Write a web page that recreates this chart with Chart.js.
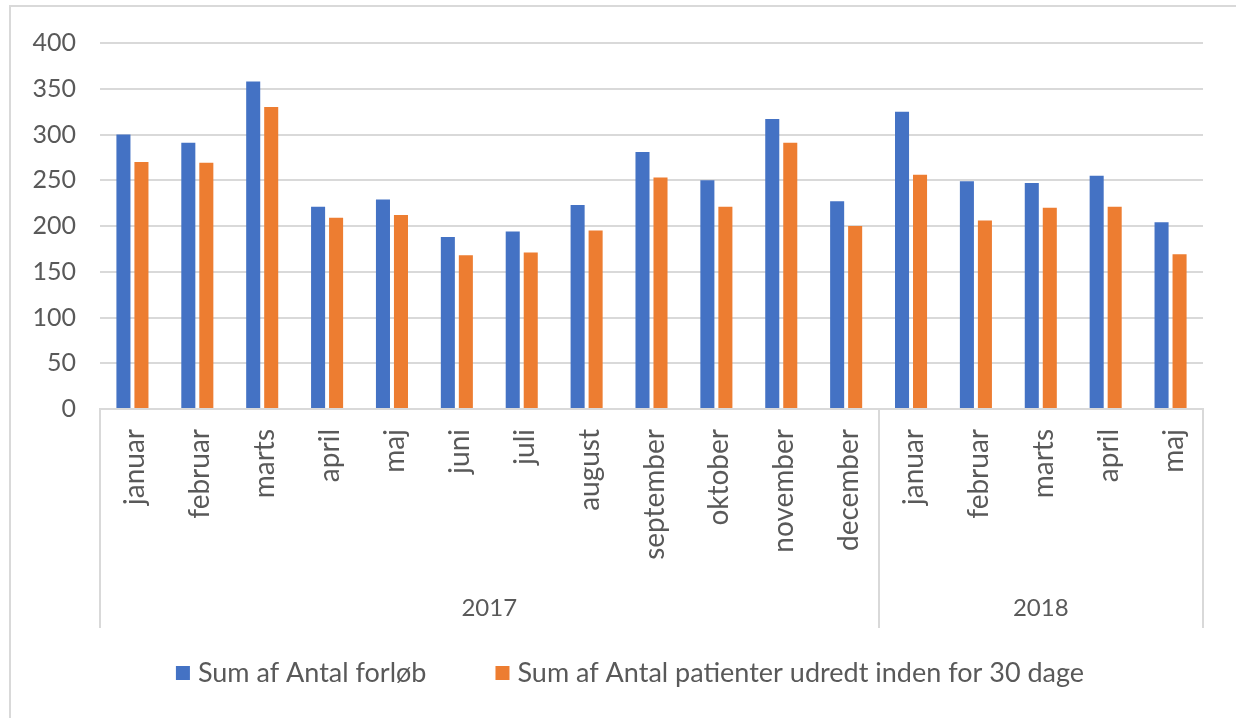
<!DOCTYPE html>
<html>
<head>
<meta charset="utf-8">
<script src="https://cdn.jsdelivr.net/npm/chart.js@4.4.1/dist/chart.umd.min.js"></script>
<style>
  html, body { margin: 0; padding: 0; background: #ffffff; }
  #wrap { width: 1236px; height: 718px; }
</style>
</head>
<body>
<div id="wrap"><canvas id="c" width="1236" height="718"></canvas></div>
<script>
const months = ['januar','februar','marts','april','maj','juni','juli','august','september','oktober','november','december','januar','februar','marts','april','maj'];
const yearLabels = ['2017', '2018'];
const yearSpans = [12, 5];
const forlob = [300, 291, 358, 221, 229, 188, 194, 223, 281, 250, 317, 227, 325, 249, 247, 255, 204];
const udredt = [270, 269, 330, 209, 212, 168, 171, 195, 253, 221, 291, 200, 256, 206, 220, 221, 169];
const seriesNames = ['Sum af Antal forløb', 'Sum af Antal patienter udredt inden for 30 dage'];
const yTicks = [0, 50, 100, 150, 200, 250, 300, 350, 400];

const BLUE = '#4472C4';
const ORANGE = '#ED7D31';
const GRID = '#D9D9D9';
const TEXT = '#595959';
const FONT = 'Lato, "Open Sans", sans-serif';

const decorPlugin = {
  id: 'decor',
  beforeDraw(chart) {
    const ctx = chart.ctx;
    ctx.save();
    ctx.strokeStyle = GRID;
    ctx.lineWidth = 2;
    ctx.beginPath();
    ctx.moveTo(10, 5); ctx.lineTo(10, 718);
    ctx.moveTo(9, 6); ctx.lineTo(1236, 6);
    ctx.stroke();
    ctx.restore();
  },
  afterDraw(chart) {
    const ctx = chart.ctx;
    const xs = chart.scales.x;
    const axisY = chart.chartArea.bottom;
    const boxBottom = 628;
    ctx.save();
    ctx.strokeStyle = GRID;
    const bounds = [xs.left];
    let idx = 0;
    for (let g = 0; g < yearSpans.length; g++) {
      idx += yearSpans[g];
      if (idx < months.length) {
        bounds.push((xs.getPixelForValue(idx - 1) + xs.getPixelForValue(idx)) / 2);
      } else {
        bounds.push(xs.right);
      }
    }
    ctx.lineWidth = 2;
    ctx.beginPath();
    for (let i = 0; i < bounds.length; i++) {
      const x = Math.round(bounds[i]);
      ctx.moveTo(x, axisY); ctx.lineTo(x, boxBottom);
    }
    ctx.stroke();
    ctx.fillStyle = TEXT;
    ctx.font = '24px ' + FONT;
    ctx.textAlign = 'center';
    ctx.textBaseline = 'middle';
    for (let g = 0; g < yearLabels.length; g++) {
      ctx.fillText(yearLabels[g], (bounds[g] + bounds[g + 1]) / 2, 608);
    }
    ctx.font = '27px ' + FONT;
    const sq = 14, gapSq = 8, gapItem = 69;
    const w0 = ctx.measureText(seriesNames[0]).width;
    const w1 = ctx.measureText(seriesNames[1]).width;
    const total = sq + gapSq + w0 + gapItem + sq + gapSq + w1;
    let x = 630 - total / 2;
    const ly = 673;
    ctx.textAlign = 'left';
    ctx.fillStyle = BLUE;
    ctx.fillRect(x, ly - 7, sq, sq);
    x += sq + gapSq;
    ctx.fillStyle = TEXT;
    ctx.fillText(seriesNames[0], x, ly);
    x += w0 + gapItem;
    ctx.fillStyle = ORANGE;
    ctx.fillRect(x, ly - 7, sq, sq);
    x += sq + gapSq;
    ctx.fillStyle = TEXT;
    ctx.fillText(seriesNames[1], x, ly);
    ctx.restore();
  }
};

new Chart(document.getElementById('c'), {
  type: 'bar',
  data: {
    labels: months,
    datasets: [
      { label: seriesNames[0], data: forlob, backgroundColor: BLUE, categoryPercentage: 0.555, barPercentage: 0.78 },
      { label: seriesNames[1], data: udredt, backgroundColor: ORANGE, categoryPercentage: 0.555, barPercentage: 0.78 }
    ]
  },
  options: {
    responsive: false,
    animation: false,
    layout: { padding: { left: 10, right: 33, top: 43, bottom: 0 } },
    plugins: { legend: { display: false }, tooltip: { enabled: false } },
    scales: {
      x: {
        grid: { display: false, drawTicks: false },
        border: { display: true, color: GRID, width: 2 },
        ticks: {
          autoSkip: false, minRotation: 90, maxRotation: 90, padding: 20, labelOffset: 3,
          color: TEXT, font: { family: FONT, size: 28 }
        },
        afterFit(scale) { scale.height = 309; }
      },
      y: {
        min: 0, max: 400,
        afterBuildTicks(scale) { scale.ticks = yTicks.map(v => ({ value: v })); },
        grid: { color: GRID, lineWidth: 2, drawTicks: false },
        border: { display: false },
        ticks: { padding: 24, color: TEXT, font: { family: FONT, size: 25 } },
        afterFit(scale) { scale.width = 90; }
      }
    }
  },
  plugins: [decorPlugin]
});
</script>
</body>
</html>
